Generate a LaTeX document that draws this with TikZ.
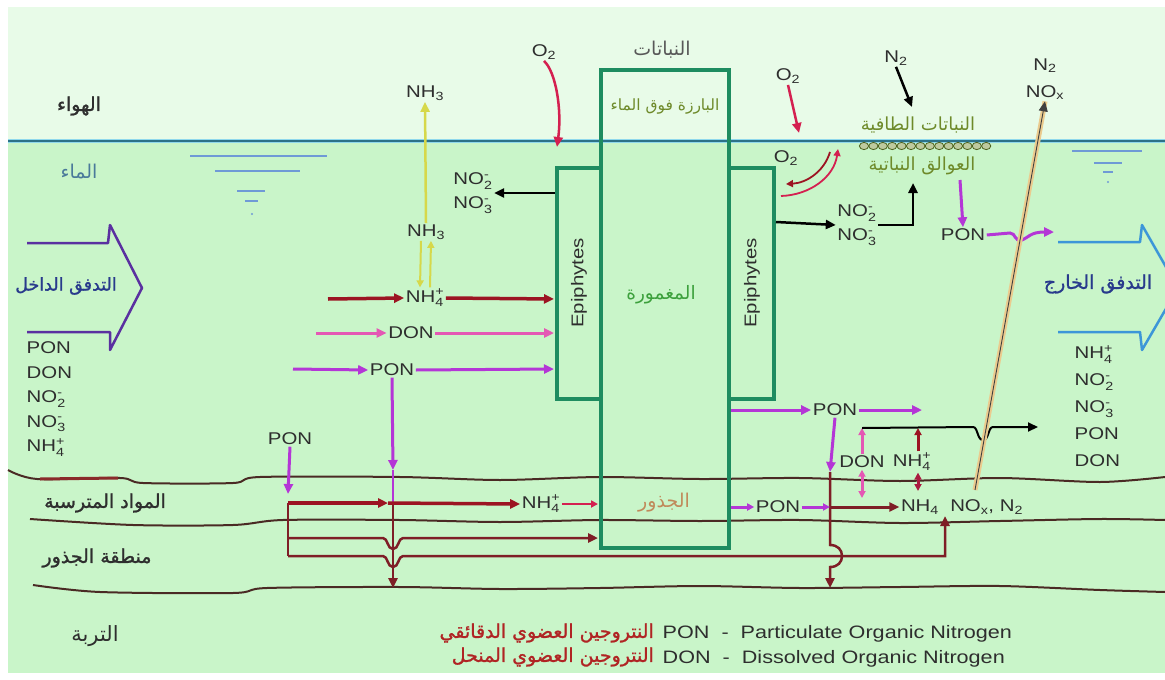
\documentclass[tikz,border=0pt]{standalone}
\usepackage{amsmath}
\usepackage{fontspec}
\setmainfont{Liberation Sans}[FakeStretch=1.2]
\newfontfamily\arabicfont[Script=Arabic]{DejaVu Sans}
\newfontfamily\arabicbf[Script=Arabic,FakeBold=1.2]{DejaVu Sans}
\TeXXeTstate=1
\usetikzlibrary{arrows.meta}

\definecolor{air}{HTML}{E8FBE8}
\definecolor{water}{HTML}{C9F5C9}
\definecolor{surf}{HTML}{2C7288}
\definecolor{surfl}{HTML}{8FD8EC}
\definecolor{lvl}{HTML}{6F9AD6}
\definecolor{plantg}{HTML}{1E8C60}
\definecolor{dred}{HTML}{9C1422}
\definecolor{dkred}{HTML}{7E1E26}
\definecolor{crim}{HTML}{D42050}
\definecolor{pnk}{HTML}{E458B4}
\definecolor{prp}{HTML}{B436D6}
\definecolor{yel}{HTML}{D6D84A}
\definecolor{soilc}{HTML}{4A2A24}
\definecolor{soilr}{HTML}{8A2A2A}
\definecolor{beige}{HTML}{EBCB8E}
\definecolor{inarrc}{HTML}{5A30A0}
\definecolor{outarrc}{HTML}{3C96D8}
\definecolor{navy}{HTML}{283A8C}
\definecolor{txt}{HTML}{2E2E2E}
\definecolor{olive}{HTML}{6E8A2A}
\definecolor{subg}{HTML}{3CA03C}
\definecolor{rootc}{HTML}{C08A5A}
\definecolor{legr}{HTML}{B02424}
\definecolor{watc}{HTML}{4A7A9A}

\newcommand{\ion}[3]{#1\ensuremath{_{\text{#2}}^{\text{#3}}}}
\newcommand{\sbs}[2]{#1\ensuremath{_{\text{#2}}}}
\newcommand{\labfont}{\fontsize{17}{24}\selectfont}
\newcommand{\legfont}{\fontsize{18}{20}\selectfont}
\newcommand{\rtl}[1]{\beginR #1\endR}

\begin{document}
\begin{tikzpicture}[x=1pt,y=-1pt,
  lab/.style={inner sep=1.5pt,text=txt,font=\labfont},
  arab/.style={inner sep=1pt,font=\arabicfont\fontsize{19}{21}\selectfont},
  arabb/.style={inner sep=1pt,font=\arabicbf\fontsize{19}{21}\selectfont},
  arr/.style={-{Triangle[length=10pt,width=9pt]}},
  arrs/.style={-{Triangle[length=7pt,width=7pt]}},
  dbl/.style={{Triangle[length=7pt,width=7pt]}-{Triangle[length=7pt,width=7pt]}},
  redln/.style={draw=dred,line width=3.5pt},
  dkln/.style={draw=dkred,line width=2.5pt},
  pnkln/.style={draw=pnk,line width=3pt},
  prpln/.style={draw=prp,line width=3pt},
  blkln/.style={draw=black,line width=2.5pt},
  yelln/.style={draw=yel,line width=2.5pt},
  crimln/.style={draw=crim,line width=2.5pt},
  plant/.style={draw=plantg,line width=4pt},
  soilln/.style={draw=soilc,line width=2pt}]

\useasboundingbox (0,0) rectangle (1165,680);
\fill[white] (0,0) rectangle (1165,680);
\fill[air] (8,7) rectangle (1165,141);
\fill[water] (8,141) rectangle (1165,673);
\draw[surfl,line width=3.5pt] (8,141) -- (1165,141);
\draw[surf,line width=1.3pt] (8,141) -- (1165,141);

\draw[lvl,line width=2pt] (190,156) -- (327,156) (215,171) -- (300,171) (237,191) -- (265,191) (245,201) -- (258,201);
\fill[lvl] (252,214) circle (1.2);
\draw[lvl,line width=2pt] (1072,151) -- (1142,151) (1094,163) -- (1122,163) (1103,172) -- (1113,172);
\fill[lvl] (1108,182) circle (1.2);

\draw[soilln] plot[smooth] coordinates {(8,470) (37,479) (120,478) (143,483) (233,483) (260,477) (400,477) (500,480) (600,477) (700,479) (800,478) (900,481) (1000,478) (1100,482) (1165,477)};
\draw[soilr,line width=3pt] (40,479) -- (118,478);
\draw[soilln] plot[smooth] coordinates {(30,519) (133,525) (233,525) (283,520) (400,520) (500,522) (600,520) (700,521) (800,520) (900,523) (1000,521) (1100,519) (1165,520)};
\draw[soilln] plot[smooth] coordinates {(33,585) (100,592) (233,593) (267,588) (400,587) (500,589) (600,588) (700,586) (800,588) (900,587) (1000,586) (1100,590) (1165,592)};

\draw[plant] (601,70) rectangle (729,548);
\draw[plant] (601,168) -- (557,168) -- (557,399) -- (601,399);
\draw[plant] (729,168) -- (774,168) -- (774,399) -- (729,399);

\draw[inarrc,line width=2.5pt,line join=round] (27,243) -- (108,243) -- (110,225) -- (142,288) -- (110,350) -- (110,332) -- (27,332);
\draw[outarrc,line width=2.5pt,line join=round] (1058,242) -- (1140,242) -- (1142,225) -- (1178,288) -- (1142,350) -- (1140,332) -- (1058,332);

\foreach \i in {0,...,13}
  \draw[olive!70!black,fill=olive!45,line width=0.8pt] ({864+\i*9.4},146) ellipse (4.6 and 3.6);

\node[arabb,text=txt] (airtxt) at (79,106) {\rtl{الهواء}};
\node[arab,text=watc] (wattxt) at (79,172) {\rtl{الماء}};
\node[arabb,text=navy,font=\arabicbf\fontsize{17.5}{20}\selectfont] (intxt) at (66,286) {\rtl{التدفق الداخل}};
\node[arabb,text=navy] (outtxt) at (1098,284) {\rtl{التدفق الخارج}};
\node[arab,text=txt!80] (planttxt) at (662,50) {\rtl{النباتات}};
\node[arab,text=olive,font=\arabicfont\fontsize{15.5}{17}\selectfont] (emtxt) at (665,107) {\rtl{البارزة فوق الماء}};
\node[arab,text=subg,font=\arabicfont\fontsize{18.5}{20}\selectfont] (subtxt) at (661,295) {\rtl{المغمورة}};
\node[arab,text=rootc] (roottxt) at (664,503) {\rtl{الجذور}};
\node[arab,text=olive,font=\arabicfont\fontsize{18}{20}\selectfont] (flotxt) at (918,125) {\rtl{النباتات الطافية}};
\node[arab,text=olive,font=\arabicfont\fontsize{18}{20}\selectfont] (phytxt) at (922,166) {\rtl{العوالق النباتية}};
\node[arabb,text=txt] (sedtxt) at (105,503) {\rtl{المواد المترسبة}};
\node[arabb,text=txt] (rztxt) at (97,558) {\rtl{منطقة الجذور}};
\node[arab,text=txt,font=\arabicfont\fontsize{21}{23}\selectfont] (soiltxt) at (95,636) {\rtl{التربة}};
\node[arabb,text=legr,anchor=east] (legar1) at (655,633) {\rtl{النتروجين العضوي الدقائقي}};
\node[arabb,text=legr,anchor=east] (legar2) at (655,657) {\rtl{النتروجين العضوي المنحل}};
\node[lab,font=\legfont,anchor=west] (legpon) at (661,634) {PON~~-~~Particulate Organic Nitrogen};
\node[lab,font=\legfont,anchor=west] (legdon) at (661,659) {DON~~-~~Dissolved Organic Nitrogen};

\node[lab,rotate=90] (epil) at (579,283) {Epiphytes};
\node[lab,rotate=90] (epir) at (752,283) {Epiphytes};

\node[lab,anchor=west,align=left,font=\fontsize{17}{24.5}\selectfont] (inlist) at (25,399) {PON\\DON\\\ion{NO}{2}{-}\\\ion{NO}{3}{-}\\\ion{NH}{4}{+}};
\node[lab,anchor=west,align=left,font=\fontsize{17}{27}\selectfont] (outlist) at (1073,406) {\ion{NH}{4}{+}\\\ion{NO}{2}{-}\\\ion{NO}{3}{-}\\PON\\DON};

\node[lab] (nh3top) at (425,93) {\sbs{NH}{3}};
\node[lab] (nh3low) at (426,232) {\sbs{NH}{3}};
\node[lab] (nh4in) at (425,298) {\ion{NH}{4}{+}};
\node[lab] (donin) at (411,333) {DON};
\node[lab] (ponin) at (392,370) {PON};
\node[lab,align=center] (noxl) at (473,193) {\ion{NO}{2}{-}\\\ion{NO}{3}{-}};
\node[lab] (o2l) at (544,52) {\sbs{O}{2}};
\node[lab] (ponsed) at (290,439) {PON};
\node[lab] (nh4s) at (541,504) {\ion{NH}{4}{+}};
\node[lab] (o2r) at (788,76) {\sbs{O}{2}};
\node[lab] (o2w) at (786,158) {\sbs{O}{2}};
\node[lab] (n2t) at (896,58) {\sbs{N}{2}};
\node[lab,align=center,font=\fontsize{17}{27}\selectfont] (gas) at (1045,79) {\sbs{N}{2}\\\sbs{NO}{x}};
\node[lab,align=center] (noxr) at (857,225) {\ion{NO}{2}{-}\\\ion{NO}{3}{-}};
\node[lab] (ponr) at (963,235) {PON};
\node[lab] (ponm) at (835,410) {PON};
\node[lab] (donb) at (862,462) {DON};
\node[lab] (nh4b) at (912,462) {\ion{NH}{4}{+}};
\node[lab] (ponb) at (778,507) {PON};
\node[lab] (prod) at (962,507) {\sbs{NH}{4}\ \ \sbs{NO}{x}, \sbs{N}{2}};

\coordinate (kl1) at (554,299);
\coordinate (kl2) at (554,333);
\coordinate (kl3) at (554,369);
\coordinate (klno) at (555,193);
\coordinate (sr1) at (328,299);
\coordinate (sr2) at (316,333);
\coordinate (sr3) at (293,369);
\coordinate (o2lend) at (557,147);
\coordinate (seda) at (393,470);
\coordinate (sedb) at (393,503);
\coordinate (sedc) at (393,588);
\coordinate (sedd) at (288,494);
\coordinate (ja) at (288,503);
\coordinate (jb) at (288,538);
\coordinate (jc) at (288,556);
\coordinate (jd) at (388,503);
\coordinate (rt1) at (598,504);
\coordinate (rt2) at (598,538);
\coordinate (upn) at (945,516);
\coordinate (kr1) at (731,410);
\coordinate (kr2) at (731,507);
\coordinate (kr3) at (776,222);
\coordinate (rp1) at (922,410);
\coordinate (rv1) at (830,472);
\coordinate (rv2) at (830,588);
\coordinate (rv3) at (830,507);
\coordinate (pd1) at (862,498);
\coordinate (nd1) at (918,491);
\coordinate (bl1) at (862,428);
\coordinate (bl2) at (918,428);
\coordinate (bl3) at (1038,427);
\coordinate (ph1) at (913,183);
\coordinate (ph2) at (960,180);
\coordinate (fl1) at (1054,232);
\coordinate (o2rend) at (799,133);
\coordinate (n2end) at (912,107);
\coordinate (gb) at (975,490);
\coordinate (a1) at (830,152);
\coordinate (a2) at (786,184);
\coordinate (a3) at (781,196);
\coordinate (a4) at (838,149);

\draw[yelln,arr] (nh3low.north) -- (nh3top.south);
\draw[yelln,line width=2pt,arrs] ([xshift=-5pt]nh3low.south) -- ([xshift=-5pt]nh4in.north);
\draw[yelln,line width=2pt,arrs] ([xshift=5pt]nh4in.north) -- ([xshift=5pt]nh3low.south);
\draw[blkln,arr] (klno) -- (noxl.east);
\draw[crimln,arr] (o2l.south) .. controls (556,72) and (562,110) .. (o2lend);

\draw[redln,arr] (sr1) -- (nh4in.west);
\draw[redln,arr] (nh4in.east) -- (kl1);
\draw[pnkln,arr] (sr2) -- (donin.west);
\draw[pnkln,arr] (donin.east) -- (kl2);
\draw[prpln,arr] (sr3) -- (ponin.west);
\draw[prpln,arr] (ponin.east) -- (kl3);
\draw[prpln,arr] (ponin.south) -- (seda);
\draw[prp,line width=2pt] (seda) -- (sedb);
\draw[dkln,arr] (sedb) -- (sedc);

\draw[prpln,arr] (ponsed.south) -- (sedd);
\draw[dkln] (ja) -- (jc);
\draw[redln,arr] (ja) -- (jd);
\draw[redln,arr] (jd) -- (nh4s.west);
\draw[crimln,arrs] (nh4s.east) -- (rt1);
\draw[dkln,arr] (jb) -- (383,538) .. controls (388,538) and (387,549) .. (393,549) .. controls (399,549) and (398,538) .. (403,538) -- (rt2);
\draw[dkln,arr] (jc) -- (383,556) .. controls (388,556) and (387,567) .. (393,567) .. controls (399,567) and (398,556) .. (403,556) -- (945,556) -- (upn);

\draw[prpln,arr] (kr1) -- (ponm.west);
\draw[prpln,arr] (ponm.east) -- (rp1);
\draw[prpln,arr] (ponm.south) -- (rv1);
\draw[dkln,arr] (rv1) -- (830,545) .. controls (838,545) and (842,550) .. (842,556) .. controls (842,562) and (838,567) .. (830,567) -- (rv2);
\draw[prpln,arrs] (kr2) -- (ponb.west);
\draw[prpln,arrs] (ponb.east) -- (rv3);
\draw[dkln,line width=3pt,arr] (rv3) -- (prod.west);
\draw[pnkln,dbl] (donb.south) -- (pd1);
\draw[draw=crim!80!black,line width=3pt,dbl] ([xshift=6pt]nh4b.south) -- (nd1);
\draw[pnkln,arrs] (donb.north) -- (bl1);
\draw[draw=dred,line width=3pt,arrs] ([xshift=6pt]nh4b.north) -- (bl2);
\draw[blkln,line width=2pt,arr] (bl1) -- (973,427) .. controls (978,427) and (977,440) .. (983,440) .. controls (989,440) and (988,427) .. (993,427) -- (bl3);

\draw[blkln,arr] (kr3) -- (noxr.west);
\draw[blkln,arr] (noxr.east) -| (ph1);
\draw[prpln,arr] (ph2) -- (ponr.north);
\draw[prpln,arr] (ponr.east) -- (1010,233) .. controls (1016,233) and (1014,242) .. (1022,240) .. controls (1028,238) and (1030,232) .. (fl1);
\draw[crimln,arr] (o2r.south) -- (o2rend);
\draw[blkln,arr] (n2t.south) -- (n2end);
\draw[dred,line width=1.8pt,arrs] (a1) .. controls (824,172) and (806,183) .. (a2);
\draw[crim,line width=1.8pt,arrs] (a3) .. controls (810,195) and (834,177) .. (a4);

\draw[beige,line width=5pt] (gb) -- (gas.south);
\draw[black!75,line width=0.9pt,arr] (gb) -- (gas.south);
\end{tikzpicture}
\end{document}
